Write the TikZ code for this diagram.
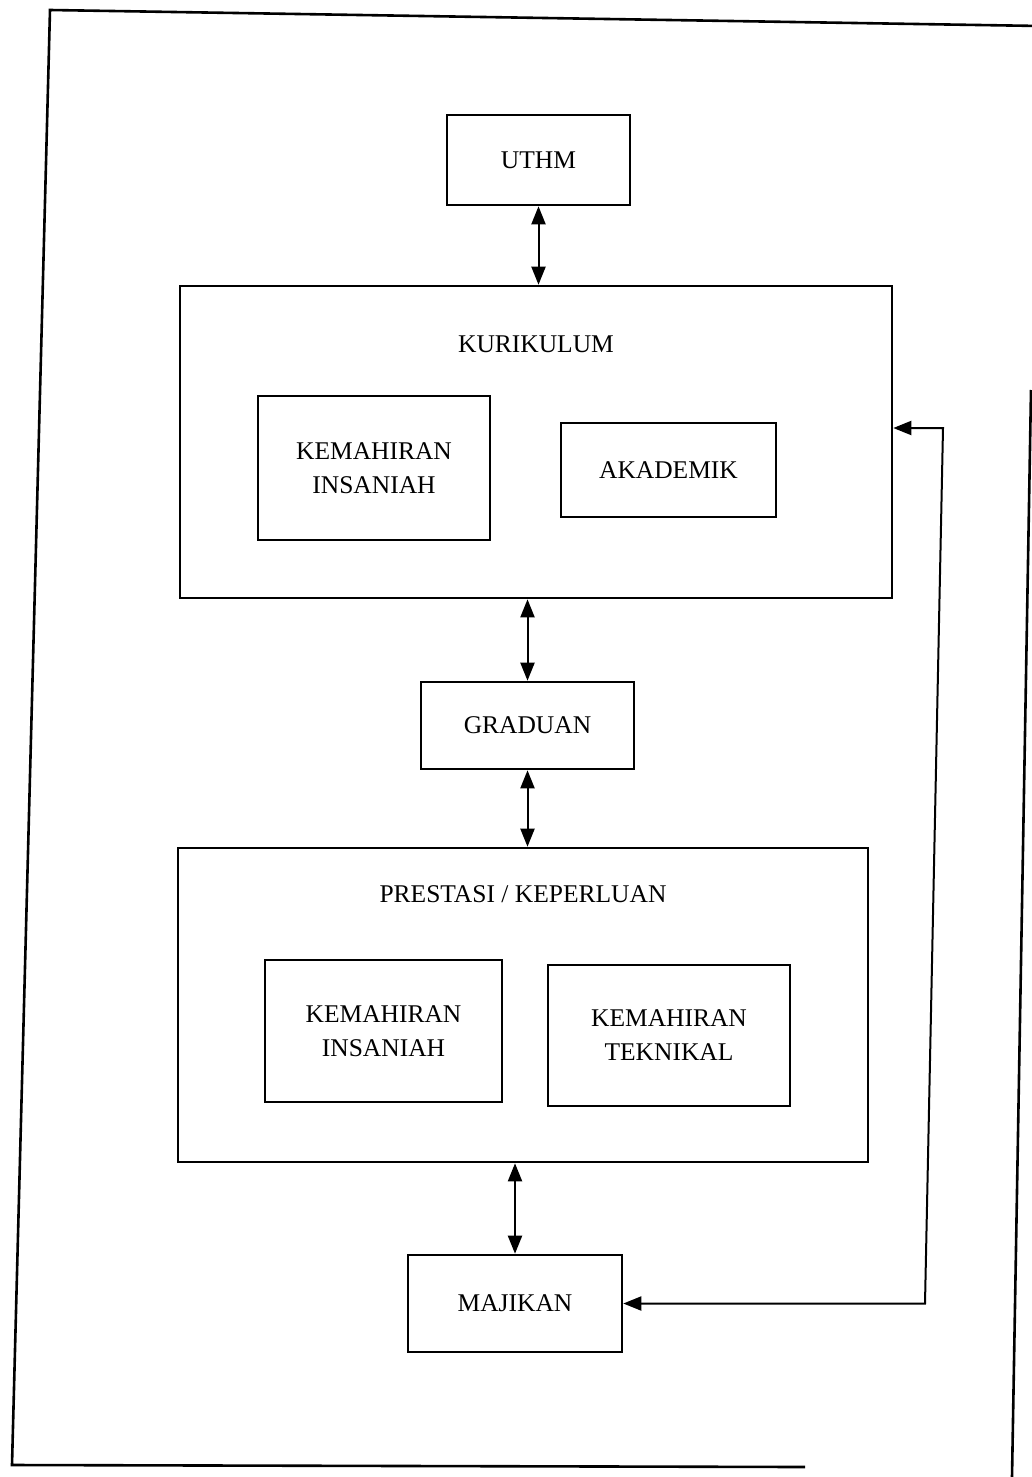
\documentclass[tikz,border=0pt]{standalone}
\usepackage{fontspec}
\setmainfont{Liberation Serif}
\usetikzlibrary{arrows.meta,calc}
\begin{document}
\begin{tikzpicture}[x=1pt,y=-1pt,
  box/.style={draw,line width=2.6pt,inner sep=0pt,align=center,
    font=\fontsize{25.5}{34}\selectfont},
  lbl/.style={inner sep=0pt,font=\fontsize{25.5}{34}\selectfont},
  tip/.tip={Triangle[length=18pt,width=14pt]},
  link/.style={line width=2pt,tip-tip},
  frame/.style={line width=2.6pt}]
\useasboundingbox (0,0) rectangle (1032,1477);
% outer frame (as scanned)
\draw[frame] (805,1467) -- (12,1465) -- (50,10) -- (1040,26);
\draw[frame] (1031,390) -- (1012,1477);
% nodes
\node[box,minimum width=183pt,minimum height=90pt] (uthm) at (538.5,160) {UTHM};
\node[box,minimum width=712pt,minimum height=312pt] (kur) at (536,442) {};
\node[lbl] (kurt) at (536,344) {KURIKULUM};
\node[box,minimum width=232pt,minimum height=144pt] (ki1) at (374,468) {KEMAHIRAN\\INSANIAH};
\node[box,minimum width=215pt,minimum height=94pt] (akad) at (668.5,470) {AKADEMIK};
\node[box,minimum width=213pt,minimum height=87pt] (grad) at (527.5,725.5) {GRADUAN};
\node[box,minimum width=690pt,minimum height=314pt] (pres) at (523,1005) {};
\node[lbl] (prest) at (523,894) {PRESTASI / KEPERLUAN};
\node[box,minimum width=237pt,minimum height=142pt] (ki2) at (383.5,1031) {KEMAHIRAN\\INSANIAH};
\node[box,minimum width=242pt,minimum height=141pt] (tek) at (669,1035.5) {KEMAHIRAN\\TEKNIKAL};
\node[box,minimum width=214pt,minimum height=97pt] (maj) at (515,1303.5) {MAJIKAN};
% connectors
\draw[link] (uthm.south) -- (uthm.south |- kur.north);
\draw[link] (kur.south -| grad.north) -- (grad.north);
\draw[link] (grad.south) -- (grad.south |- pres.north);
\draw[link] (pres.south -| maj.north) -- (maj.north);
\coordinate (fb1) at (925,1303.5);
\coordinate (fb2) at (943,428);
\draw[link] (maj.east) -- (fb1) -- (fb2) -- (kur.east |- fb2);
\end{tikzpicture}
\end{document}
